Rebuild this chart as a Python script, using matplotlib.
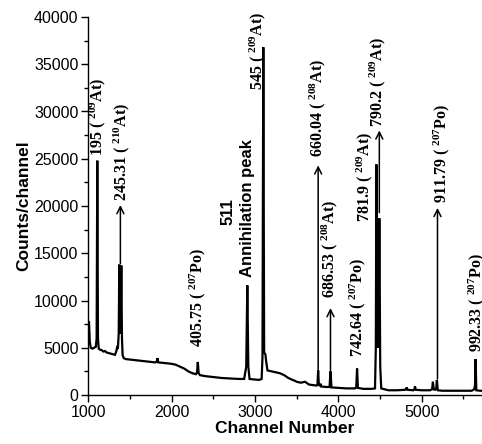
import matplotlib
matplotlib.use("Agg")
import matplotlib.pyplot as plt
from matplotlib.ticker import MultipleLocator

plt.rcParams['font.family'] = ['Liberation Sans', 'DejaVu Sans']
plt.rcParams['mathtext.fontset'] = 'custom'
plt.rcParams['mathtext.rm'] = 'Liberation Serif:bold'
plt.rcParams['mathtext.bf'] = 'Liberation Serif:bold'
plt.rcParams['mathtext.default'] = 'rm'

# Spectrum (channel, counts)
channel = [1000, 1008, 1018, 1030, 1050, 1070, 1090, 1100, 1108, 1116, 1125, 1140, 1160, 1180,
           1200, 1220, 1240, 1260, 1280, 1300, 1320, 1335, 1345, 1355, 1365, 1372, 1380, 1388,
           1396, 1404, 1412, 1425, 1450, 1500, 1550, 1600, 1650, 1700, 1750, 1800, 1820, 1830,
           1840, 1900, 1950, 2000, 2050, 2100, 2150, 2200, 2250, 2290, 2305, 2314, 2324, 2340,
           2400, 2500, 2600, 2700, 2800, 2870, 2895, 2908, 2920, 2935, 2980, 3050, 3080, 3090,
           3100, 3110, 3125, 3135, 3150, 3200, 3250, 3300, 3350, 3400, 3450, 3480, 3500, 3550,
           3600, 3650, 3700, 3740, 3750, 3758, 3766, 3778, 3786, 3796, 3850, 3895, 3906, 3918,
           4000, 4100, 4200, 4215, 4225, 4235, 4300, 4400, 4440, 4450, 4457, 4466, 4475, 4483,
           4492, 4503, 4515, 4600, 4700, 4800, 4812, 4820, 4830, 4900, 4912, 4920, 4930, 5000,
           5100, 5125, 5135, 5145, 5160, 5175, 5183, 5193, 5250, 5300, 5400, 5500, 5600, 5630,
           5640, 5647, 5656, 5700, 5730]
counts = [6200, 7800, 5600, 5000, 4900, 5000, 5100, 6000, 24800, 6000, 4900, 4800, 4750, 4600,
          4650, 4500, 4450, 4400, 4350, 4300, 4250, 4600, 5000, 4900, 6500, 13800, 6500, 7000,
          13700, 6000, 4200, 3900, 3800, 3750, 3700, 3650, 3600, 3550, 3500, 3450, 3500, 3900,
          3450, 3400, 3350, 3300, 3200, 3000, 2800, 2500, 2300, 2200, 2400, 3500, 2300, 2100,
          2000, 1900, 1800, 1750, 1700, 1700, 3000, 11600, 3000, 1700, 1650, 1600, 1700, 4000,
          36800, 4500, 4300, 3500, 2600, 2500, 2400, 2300, 2100, 1800, 1600, 1500, 1400, 1300,
          1400, 1100, 1050, 1000, 1100, 2600, 1100, 1000, 1200, 900, 850, 850, 2500, 800,
          750, 700, 700, 800, 2800, 750, 650, 650, 700, 5000, 24400, 6000, 5000, 6000,
          18700, 3000, 700, 500, 500, 550, 600, 800, 550, 500, 600, 900, 550, 500,
          500, 600, 1400, 600, 550, 700, 1600, 500, 450, 450, 450, 450, 450, 600,
          1000, 3800, 500, 450, 450]

x_ticks = [1000, 2000, 3000, 4000, 5000]
y_ticks = [0, 5000, 10000, 15000, 20000, 25000, 30000, 35000, 40000]

# Peak annotations: text, text anchor (x, y bottom), optional arrow (x, y_from, y_to)
labels = [
    (r'195 ( $^{209}$At)', 1116, 25300, None),
    (r'245.31 ( $^{210}$At)', 1404, 20500, (1385, 13900, 20100)),
    (r'405.75 ( $^{207}$Po)', 2316, 5100, None),
    (r'545 ( $^{209}$At)', 3035, 32300, None),
    (r'660.04 ( $^{208}$At)', 3754, 25200, (3758, 2700, 24300)),
    (r'686.53 ( $^{208}$At)', 3898, 10300, (3906, 2600, 9200)),
    (r'742.64 ( $^{207}$Po)', 4234, 4000, None),
    (r'781.9 ( $^{209}$At)', 4318, 18300, None),
    (r'790.2 ( $^{209}$At)', 4474, 28400, (4492, 19300, 28000)),
    (r'911.79 ( $^{207}$Po)', 5238, 20300, (5190, 1700, 19800)),
    (r'992.33 ( $^{207}$Po)', 5657, 4500, None),
]

fig = plt.figure(figsize=(4.82, 4.44), dpi=100)
ax = fig.add_axes([88.3 / 482, 1 - 395 / 444, 1 - 88.3 / 482, (395 - 17) / 444])

ax.plot(channel, counts, color='black', lw=1.6, solid_joinstyle='miter')

ax.set_xlim(1000, 5724)
ax.set_ylim(0, 40000)
ax.set_xticks(x_ticks)
ax.set_yticks(y_ticks)
ax.xaxis.set_minor_locator(MultipleLocator(500))
ax.yaxis.set_minor_locator(MultipleLocator(2500))
ax.tick_params(which='major', direction='out', length=5, width=1, labelsize=11.5, pad=2)
ax.tick_params(which='minor', direction='out', length=3, width=1)
for s in ('top', 'right'):
    ax.spines[s].set_visible(False)
for s in ('left', 'bottom'):
    ax.spines[s].set_linewidth(1)

ax.set_xlabel('Channel Number', fontsize=12.5, fontweight='bold', labelpad=1)
ax.set_ylabel('Counts/channel', fontsize=12.5, fontweight='bold', labelpad=2)

for text, tx, ty, arrow in labels:
    ax.text(tx, ty, text, rotation=90, ha='center', va='bottom', fontsize=11.5,
            family=['Liberation Serif', 'DejaVu Serif'], fontweight='bold', clip_on=False)
    if arrow is not None:
        axx, y0, y1 = arrow
        ax.annotate('', xy=(axx, y1), xytext=(axx, y0),
                    arrowprops=dict(arrowstyle='->,head_length=0.5,head_width=0.25',
                                    lw=1.1, color='black', shrinkA=0, shrinkB=0))

ax.text(2675, 18000, '511', rotation=90, ha='center', va='bottom', fontsize=12,
        fontweight='bold')
ax.text(2915, 12500, 'Annihilation peak', rotation=90, ha='center', va='bottom',
        fontsize=12, fontweight='bold')

fig.savefig('out.png', dpi=100)
